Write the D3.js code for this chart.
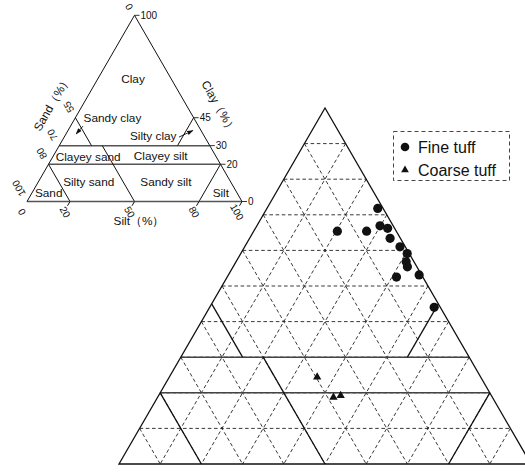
<!DOCTYPE html>
<html><head><meta charset="utf-8">
<script src="https://cdn.jsdelivr.net/npm/d3@7"></script>
<style>body{margin:0;background:#fff}svg{display:block}</style>
</head><body><svg id="c" width="525" height="475"></svg>
<script>
// ---------- DATA ----------
const seriesNames = ["Fine tuff", "Coarse tuff"];
const fineClay = [71.8, 65.4, 65.4, 66.9, 66.2, 63.4, 61.0, 59.1, 56.8, 55.4, 52.5, 53.1, 44.0];
const fineSilt = [26.9, 20.3, 27.4, 29.9, 32.1, 34.1, 37.7, 40.4, 41.3, 42.3, 41.1, 46.3, 54.5];
const fineSand = [1.3, 14.3, 7.2, 3.2, 1.7, 2.5, 1.3, 0.5, 1.9, 2.3, 6.4, 0.6, 1.5];
const coarseClay = [24.4, 18.7, 19.2];
const coarseSilt = [35.9, 42.7, 44.2];
const coarseSand = [39.7, 38.6, 36.6];
const gridSteps = [10, 20, 30, 40, 50, 60, 70, 80, 90];
// class boundaries: [clay, silt] end points
const classLines = [
  {a: [30, 0], b: [30, 70], h: true},
  {a: [20, 0], b: [20, 80], h: true},
  {a: [20, 0], b: [0, 20]},
  {a: [30, 20], b: [0, 50]},
  {a: [45, 0], b: [30, 15]},
  {a: [20, 80], b: [0, 80]},
  {a: [45, 55], b: [30, 55]}
];
const classNames = ["Clay", "Sandy clay", "Silty clay", "Clayey sand", "Clayey silt", "Silty sand", "Sandy silt", "Sand", "Silt"];
const classClay = [66, 44.7, 35.2, 24.1, 24.4, 10.6, 10.6, 4.4, 4.7];
const classSilt = [16.3, 17.4, 41.1, 16.4, 50.0, 23.4, 59.3, 7.9, 87.8];
const sandTicks = ["0", "55", "70", "80", "100"];      // left edge labels
const sandTickClay = [100, 45, 30, 20, 0];
const siltTicks = ["0", "20", "50", "80", "100"];      // bottom labels
const clayTicks = ["100", "45", "30", "20", "0"];      // right edge labels
const arrows = [ {a: [40.5, 5.8], b: [36.3, 4.7]}, {a: [34.6, 53.4], b: [38.1, 58.1]} ];

// ---------- SETUP ----------
const svg = d3.select("#c");
const FONT = "Liberation Sans, Arial, Helvetica, sans-serif";
svg.append("defs").append("marker").attr("id", "ah").attr("viewBox", "0 0 10 10")
  .attr("refX", 9).attr("refY", 5).attr("markerWidth", 7).attr("markerHeight", 7)
  .attr("orient", "auto").append("path").attr("d", "M0,1.5L10,5L0,8.5Z").attr("fill", "#111");

function makeProj(left, right, baseY, apexY) {
  const x = d3.scaleLinear().domain([0, 100]).range([left, right]);
  const y = d3.scaleLinear().domain([0, 100]).range([baseY, apexY]);
  return (clay, silt) => [x(silt + clay / 2), y(clay)];
}
const line = d3.line();

// ---------- INSET ----------
const P = makeProj(27, 242, 201.5, 15.3);
const gi = svg.append("g");
classLines.forEach(l => {
  gi.append("path").attr("d", line([P(...l.a), P(...l.b)]))
    .attr("fill", "none").attr("stroke", l.h ? "#555" : "#111").attr("stroke-width", l.h ? 1.5 : 1);
});
gi.append("path").attr("d", line([P(0, 0), P(0, 100)])).attr("stroke", "#555").attr("stroke-width", 1.6);
gi.append("path").attr("d", line([P(0, 0), P(100, 0), P(0, 100)])).attr("fill", "none").attr("stroke", "#111").attr("stroke-width", 1);
clayTicks.forEach(t => {
  const c = +t; const p = P(c, 100 - c);
  gi.append("path").attr("d", line([p, [p[0] + 5, p[1]]])).attr("stroke", "#333").attr("stroke-width", 1);
  gi.append("text").attr("x", p[0] + 6).attr("y", p[1]).attr("dy", "0.35em")
    .attr("font-family", FONT).attr("font-size", 10).attr("fill", "#111").text(t);
});
sandTicks.forEach((t, i) => {
  const p = P(sandTickClay[i], 0);
  gi.append("text").attr("transform", `translate(${p[0] - 4},${p[1] - 6}) rotate(-120)`)
    .attr("dy", "0.35em").attr("font-family", FONT).attr("font-size", 10).attr("fill", "#111").text(t);
});
siltTicks.forEach(t => {
  const s = +t; const p = P(0, s);
  if (s > 0) gi.append("path").attr("d", line([p, [p[0] - 2.5, p[1] + 4.3]])).attr("stroke", "#111").attr("stroke-width", 1);
  gi.append("text").attr("transform", `translate(${p[0] - 5},${p[1] + 10.5}) rotate(60)`)
    .attr("text-anchor", "middle").attr("dy", "0.35em").attr("font-family", FONT).attr("font-size", 10).attr("fill", "#111").text(t);
});
classNames.forEach((n, i) => {
  const p = P(classClay[i], classSilt[i]);
  gi.append("text").attr("x", p[0]).attr("y", p[1]).attr("dy", "0.35em").attr("text-anchor", "middle")
    .attr("font-family", FONT).attr("font-size", 11.8).attr("fill", "#111").text(n);
});
arrows.forEach(a => {
  gi.append("path").attr("d", line([P(...a.a), P(...a.b)])).attr("stroke", "#111").attr("stroke-width", 0.9)
    .attr("marker-end", "url(#ah)");
});
const ax = [
  {t: "Sand（%）", c: P(52.9, -14.8), r: -60},
  {t: "Clay（%）", c: [219, 106.7], r: 60},
  {t: "Silt（%）", c: [139, 221], r: 0}
];
ax.forEach(a => {
  gi.append("text").attr("transform", `translate(${a.c[0]},${a.c[1]}) rotate(${a.r})`)
    .attr("text-anchor", "middle").attr("dy", "0.35em").attr("font-family", FONT).attr("font-size", 11.8).attr("fill", "#111").text(a.t);
});

// ---------- MAIN ----------
const M = makeProj(119, 531, 464, 108);
const gm = svg.append("g");
const dash = "3.6,2.6";
gridSteps.forEach(v => {
  gm.append("path").attr("d", line([M(v, 0), M(v, 100 - v)]));
  gm.append("path").attr("d", line([M(100 - v, 0), M(0, 100 - v)]));
  gm.append("path").attr("d", line([M(100 - v, v), M(0, v)]));
});
gm.selectAll("path").attr("fill", "none").attr("stroke", "#222").attr("stroke-width", 0.9).attr("stroke-dasharray", dash);
classLines.forEach(l => {
  gm.append("path").attr("d", line([M(...l.a), M(...l.b)]))
    .attr("fill", "none").attr("stroke", l.h ? "#444" : "#111").attr("stroke-width", l.h ? 1.6 : 1.3);
});
gm.append("path").attr("d", line([M(0, 0), M(100, 0), M(0, 100), M(0, 0)]) + "Z")
  .attr("fill", "none").attr("stroke", "#111").attr("stroke-width", 1.3);

const fine = fineClay.map((c, i) => ({clay: c, silt: fineSilt[i], sand: fineSand[i]}));
const coarse = coarseClay.map((c, i) => ({clay: c, silt: coarseSilt[i], sand: coarseSand[i]}));
gm.selectAll("circle.f").data(fine).enter().append("circle")
  .attr("cx", d => M(d.clay, d.silt)[0]).attr("cy", d => M(d.clay, d.silt)[1])
  .attr("r", 4.6).attr("fill", "#111");
const tri = d3.symbol().type(d3.symbolTriangle).size(30);
gm.selectAll("path.t").data(coarse).enter().append("path")
  .attr("transform", d => `translate(${M(d.clay, d.silt)[0]},${M(d.clay, d.silt)[1]})`)
  .attr("d", tri).attr("fill", "#111");

const lg = svg.append("g");
lg.append("rect").attr("x", 393.5).attr("y", 131.5).attr("width", 116).attr("height", 49)
  .attr("fill", "#fff").attr("stroke", "#444").attr("stroke-width", 1).attr("stroke-dasharray", "4,3");
lg.append("circle").attr("cx", 405).attr("cy", 147).attr("r", 4.3).attr("fill", "#111");
lg.append("path").attr("transform", "translate(405,170)").attr("d", d3.symbol().type(d3.symbolTriangle).size(26)).attr("fill", "#111");
seriesNames.forEach((n, i) => {
  lg.append("text").attr("x", 418).attr("y", 147 + i * 23).attr("dy", "0.36em")
    .attr("font-family", FONT).attr("font-size", 16).attr("fill", "#111").text(n);
});
</script></body></html>
